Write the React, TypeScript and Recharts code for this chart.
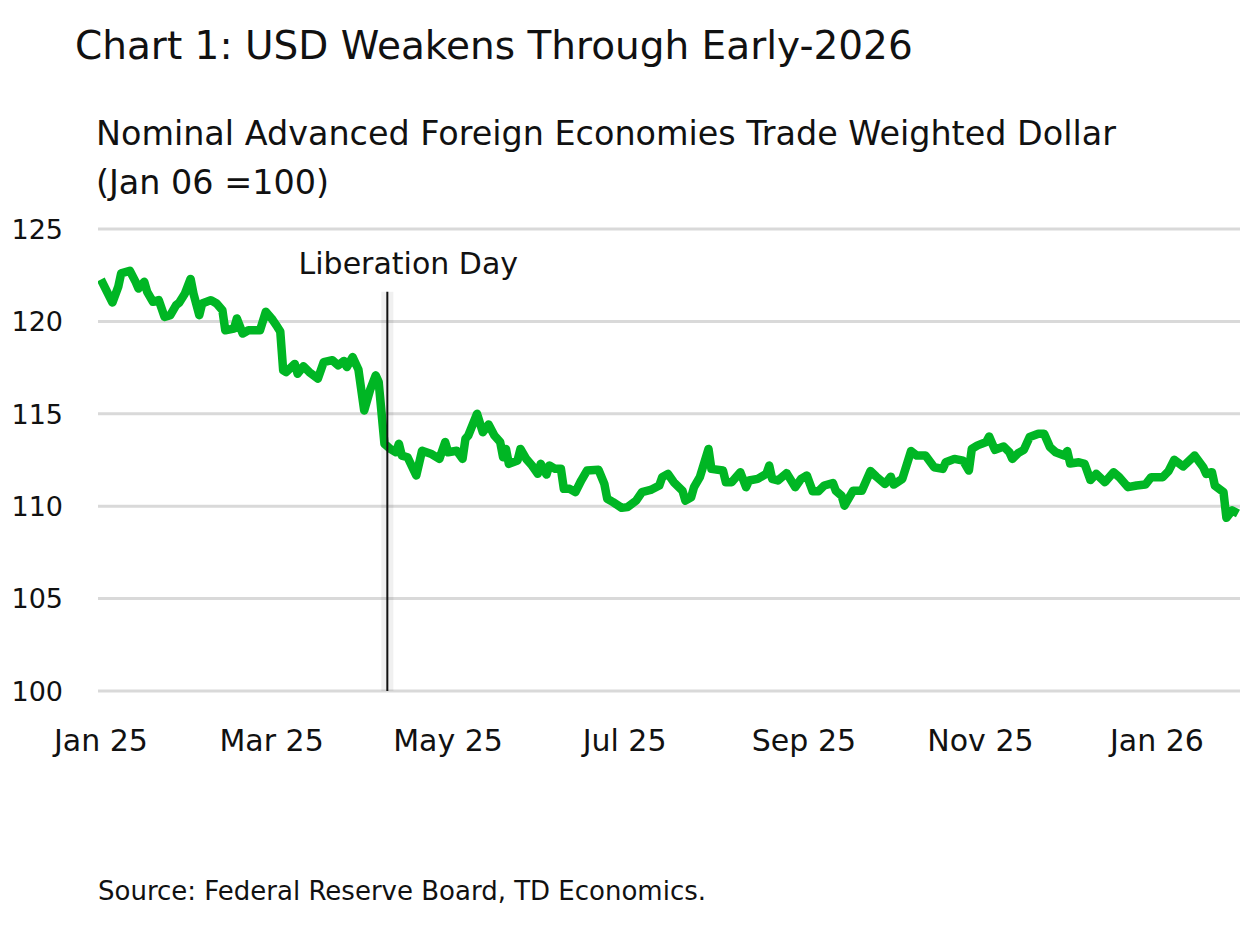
import React from "react";
import { LineChart, Line, XAxis, YAxis, CartesianGrid, ReferenceLine } from "recharts";

// Nominal AFE trade weighted dollar index
const dates = [
  "2025-01-01", "2025-01-05", "2025-01-07", "2025-01-08", "2025-01-11", "2025-01-13", "2025-01-14",
  "2025-01-16", "2025-01-17", "2025-01-19", "2025-01-21", "2025-01-23", "2025-01-25", "2025-01-27",
  "2025-01-28", "2025-01-30", "2025-02-01", "2025-02-02", "2025-02-04", "2025-02-05", "2025-02-08",
  "2025-02-10", "2025-02-12", "2025-02-13", "2025-02-16", "2025-02-17", "2025-02-19", "2025-02-21",
  "2025-02-25", "2025-02-27", "2025-03-01", "2025-03-03", "2025-03-04", "2025-03-05", "2025-03-06",
  "2025-03-09", "2025-03-10", "2025-03-12", "2025-03-14", "2025-03-17", "2025-03-19", "2025-03-22",
  "2025-03-24", "2025-03-26", "2025-03-27", "2025-03-29", "2025-03-31", "2025-04-02", "2025-04-04",
  "2025-04-06", "2025-04-07", "2025-04-09", "2025-04-11", "2025-04-13", "2025-04-14", "2025-04-15",
  "2025-04-17", "2025-04-20", "2025-04-22", "2025-04-25", "2025-04-28", "2025-04-30", "2025-05-01",
  "2025-05-04", "2025-05-06", "2025-05-07", "2025-05-08", "2025-05-11", "2025-05-13", "2025-05-15",
  "2025-05-17", "2025-05-19", "2025-05-20", "2025-05-21", "2025-05-22", "2025-05-25", "2025-05-26",
  "2025-05-28", "2025-05-30", "2025-06-01", "2025-06-02", "2025-06-04", "2025-06-05", "2025-06-07",
  "2025-06-09", "2025-06-10", "2025-06-12", "2025-06-14", "2025-06-16", "2025-06-18", "2025-06-22",
  "2025-06-24", "2025-06-25", "2025-06-27", "2025-06-30", "2025-07-02", "2025-07-05", "2025-07-07",
  "2025-07-10", "2025-07-13", "2025-07-14", "2025-07-16", "2025-07-18", "2025-07-21", "2025-07-22",
  "2025-07-24", "2025-07-25", "2025-07-27", "2025-07-30", "2025-07-31", "2025-08-04", "2025-08-05",
  "2025-08-07", "2025-08-10", "2025-08-12", "2025-08-13", "2025-08-16", "2025-08-19", "2025-08-20",
  "2025-08-21", "2025-08-23", "2025-08-26", "2025-08-29", "2025-08-31", "2025-09-02", "2025-09-04",
  "2025-09-06", "2025-09-08", "2025-09-11", "2025-09-12", "2025-09-14", "2025-09-15", "2025-09-18",
  "2025-09-21", "2025-09-24", "2025-09-26", "2025-09-29", "2025-10-01", "2025-10-02", "2025-10-05",
  "2025-10-08", "2025-10-10", "2025-10-13", "2025-10-16", "2025-10-19", "2025-10-20", "2025-10-23",
  "2025-10-26", "2025-10-28", "2025-10-29", "2025-10-31", "2025-11-03", "2025-11-04", "2025-11-06",
  "2025-11-09", "2025-11-11", "2025-11-12", "2025-11-14", "2025-11-16", "2025-11-18", "2025-11-21",
  "2025-11-23", "2025-11-25", "2025-11-27", "2025-11-30", "2025-12-01", "2025-12-02", "2025-12-05",
  "2025-12-07", "2025-12-09", "2025-12-11", "2025-12-14", "2025-12-17", "2025-12-19", "2025-12-22",
  "2025-12-25", "2025-12-28", "2025-12-30", "2026-01-03", "2026-01-05", "2026-01-07", "2026-01-10",
  "2026-01-11", "2026-01-14", "2026-01-17", "2026-01-18", "2026-01-20", "2026-01-21", "2026-01-24",
  "2026-01-25", "2026-01-27", "2026-01-29",
];

const afeIndex = [
  122.27, 121.02, 121.87, 122.6, 122.74, 122.14, 121.78,
  122.14, 121.6, 121.06, 121.15, 120.24, 120.34, 120.88,
  121.0, 121.5, 122.3, 121.5, 120.34, 120.97, 121.15,
  120.97, 120.6, 119.52, 119.61, 120.16, 119.34, 119.52,
  119.52, 120.52, 120.16, 119.7, 119.45, 117.35, 117.26,
  117.7, 117.17, 117.57, 117.26, 116.9, 117.8, 117.9,
  117.62, 117.86, 117.53, 118.07, 117.4, 115.18, 116.27,
  117.08, 116.72, 113.38, 113.1, 112.92, 113.38, 112.74,
  112.65, 111.66, 113.0, 112.84, 112.56, 113.47, 112.92,
  113.0, 112.56, 113.65, 113.83, 115.0, 114.0, 114.42,
  113.83, 113.47, 112.65, 113.1, 112.29, 112.47, 113.1,
  112.56, 112.2, 111.75, 112.29, 111.71, 112.2, 112.02,
  112.02, 110.94, 110.94, 110.76, 111.39, 111.93, 111.97,
  111.21, 110.4, 110.22, 109.91, 109.95, 110.3, 110.76,
  110.88, 111.12, 111.57, 111.75, 111.3, 110.84, 110.3,
  110.48, 111.03, 111.57, 113.1, 112.02, 111.93, 111.3,
  111.3, 111.84, 111.03, 111.39, 111.48, 111.75, 112.2,
  111.48, 111.39, 111.79, 111.03, 111.48, 111.66, 110.81,
  110.81, 111.12, 111.25, 110.84, 110.57, 110.03, 110.84,
  110.84, 111.9, 111.6, 111.2, 111.6, 111.17, 111.48,
  112.98, 112.74, 112.74, 112.11, 112.02, 112.38, 112.56,
  112.47, 111.93, 113.1, 113.29, 113.47, 113.77, 113.05,
  113.23, 112.92, 112.56, 112.87, 113.05, 113.74, 113.92,
  113.92, 113.2, 112.92, 112.74, 112.98, 112.31, 112.38,
  112.29, 111.42, 111.75, 111.3, 111.84, 111.57, 111.03,
  111.12, 111.17, 111.57, 111.57, 111.9, 112.51, 112.15,
  112.29, 112.74, 112.11, 111.75, 111.84, 111.12, 110.76,
  109.37, 109.77, 109.6,
];

const tickDates = ["2025-01-01", "2025-03-01", "2025-05-01", "2025-07-01", "2025-09-01", "2025-11-01", "2026-01-01"];
const tickLabels = ["Jan 25", "Mar 25", "May 25", "Jul 25", "Sep 25", "Nov 25", "Jan 26"];
const yTicks = [100, 105, 110, 115, 120, 125];
const liberationDay = "2025-04-10";

const FONT = "'DejaVu Sans', sans-serif";
const DAY = 86400000;
const toTime = (d: string) => Date.parse(d + "T00:00:00Z");

const data = dates.map((d, i) => ({ t: toTime(d), value: afeIndex[i] }));
const tickTimes = tickDates.map(toTime);
const libTime = toTime(liberationDay);
const xDomain = [toTime("2024-12-31"), toTime("2026-01-29") + 0.7 * DAY];

function XTick({ x, y, payload }: any) {
  const i = tickTimes.indexOf(payload.value);
  return (
    <text x={x} y={y} dy={60} textAnchor="middle" fontFamily={FONT} fontSize={30} fill="#111">
      {tickLabels[i]}
    </text>
  );
}

function YTick({ x, y, payload }: any) {
  return (
    <text x={x - 35} y={y} dy="0.36em" textAnchor="end" fontFamily={FONT} fontSize={27} fill="#111">
      {payload.value}
    </text>
  );
}

function LibLabel(props: any) {
  const vb = props.viewBox || {};
  return (
    <text x={vb.x + 21} y={vb.y - 18} textAnchor="middle" fontFamily={FONT} fontSize={30} fill="#111">
      Liberation Day
    </text>
  );
}

export default function App() {
  return (
    <div style={{ position: "absolute", left: 0, top: 0, width: 1240, height: 925, background: "#fff" }}>
      <svg width={1240} height={925} style={{ position: "absolute", left: 0, top: 0 }}>
        <text x={75} y={59} fontFamily={FONT} fontSize={39} fill="#111">
          Chart 1: USD Weakens Through Early-2026
        </text>
        <text x={96} y={145} fontFamily={FONT} fontSize={33.4} fill="#111">
          Nominal Advanced Foreign Economies Trade Weighted Dollar
        </text>
        <text x={96} y={194} fontFamily={FONT} fontSize={33.4} fill="#111">
          (Jan 06 =100)
        </text>
        <text x={98} y={900} fontFamily={FONT} fontSize={26} fill="#111">
          Source: Federal Reserve Board, TD Economics.
        </text>
      </svg>
      <div style={{ position: "absolute", left: 0, top: 0 }}>
        <LineChart width={1240} height={925} data={data} margin={{ top: 229, right: 0, bottom: 194, left: 0 }}>
          <CartesianGrid horizontal vertical={false} stroke="#d9d9d9" strokeWidth={3} />
          <XAxis
            dataKey="t"
            type="number"
            domain={xDomain}
            ticks={tickTimes}
            tick={<XTick />}
            axisLine={false}
            tickLine={false}
            tickSize={0}
            tickMargin={0}
            height={40}
            allowDataOverflow
          />
          <YAxis
            type="number"
            domain={[100, 125]}
            ticks={yTicks}
            tick={<YTick />}
            axisLine={false}
            tickLine={false}
            tickSize={0}
            tickMargin={0}
            width={98}
          />
          <Line
            type="linear"
            dataKey="value"
            stroke="#00b624"
            strokeWidth={8.5}
            strokeLinejoin="round"
            dot={false}
            activeDot={false}
            isAnimationActive={false}
          />
          <ReferenceLine
            segment={[{ x: libTime, y: 121.6 }, { x: libTime, y: 100 }]}
            stroke="#000"
            strokeOpacity={0.06}
            strokeWidth={12}
          />
          <ReferenceLine
            segment={[{ x: libTime, y: 121.6 }, { x: libTime, y: 100 }]}
            stroke="#111"
            strokeWidth={2}
            label={(p: any) => <LibLabel {...p} />}
          />
        </LineChart>
      </div>
    </div>
  );
}
